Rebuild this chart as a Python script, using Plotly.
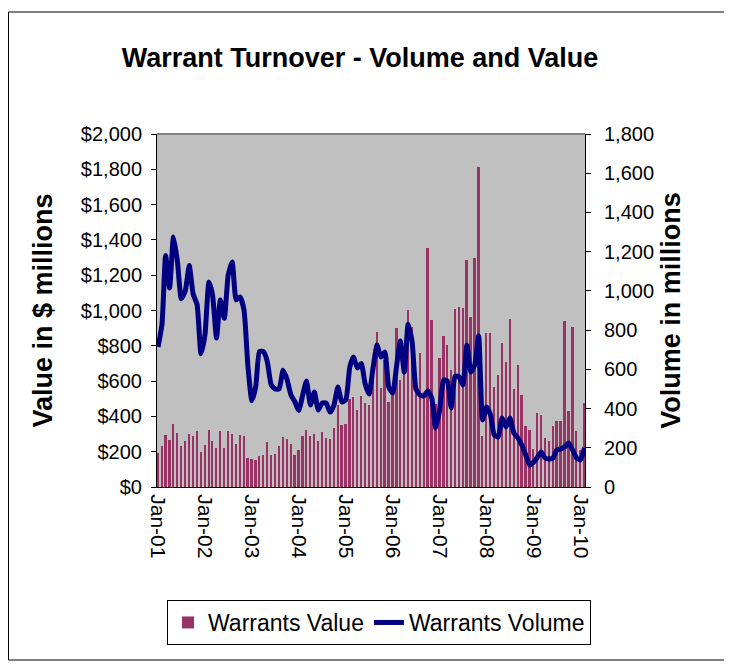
import pandas as pd
import plotly.graph_objects as go

months = pd.date_range("2001-01-01", periods=110, freq="MS")

# Warrants Value ($ millions), monthly Jan-01 .. Feb-10
warrants_value = [
    195, 235, 295, 265, 357, 305, 234, 262, 302, 290, 317, 200,
    240, 323, 262, 223, 317, 223, 317, 298, 242, 295, 291, 162,
    159, 153, 178, 181, 257, 181, 189, 234, 285, 272, 245, 181,
    210, 289, 323, 289, 300, 261, 312, 278, 272, 334, 465, 351,
    357, 500, 510, 436, 516, 476, 465, 720, 878, 561, 720, 482,
    550, 901, 606, 720, 1003, 906, 531, 761, 512, 1354, 946, 470,
    731, 856, 805, 663, 1008, 1020, 1014, 1286, 963, 1297, 1813, 290,
    874, 874, 568, 635, 818, 710, 952, 553, 691, 521, 346, 323,
    214, 421, 408, 276, 262, 346, 374, 374, 940, 431, 908, 317,
    210, 478,
]

# Warrants Volume (millions), monthly Jan-01 .. Feb-10
warrants_volume = [
    714, 830, 1180, 1015, 1275, 1150, 960, 1000, 1130, 985, 930, 680,
    775, 1045, 980, 760, 954, 860, 1081, 1147, 954, 969, 903, 620,
    440, 515, 690, 690, 640, 520, 500, 500, 595, 550, 470, 435,
    390, 470, 540, 418, 484, 393, 428, 428, 382, 418, 510, 433,
    444, 612, 663, 607, 630, 525, 474, 607, 724, 663, 688, 510,
    479, 622, 745, 586, 830, 740, 500, 469, 464, 490, 454, 300,
    393, 546, 541, 403, 566, 561, 520, 724, 586, 622, 770, 342,
    408, 367, 265, 255, 352, 306, 352, 275, 250, 214, 163, 112,
    127, 153, 178, 148, 143, 148, 189, 194, 205, 225, 189, 148,
    138, 199,
]

year_ticks = pd.date_range("2001-01-01", periods=10, freq="12MS")
year_labels = ["Jan-01", "Jan-02", "Jan-03", "Jan-04", "Jan-05",
               "Jan-06", "Jan-07", "Jan-08", "Jan-09", "Jan-10"]

FONT = "Arial, Liberation Sans, sans-serif"

# page body has an 8px margin, so figure is drawn 8px right/down
W, H = 724, 656


def px_x(p):
    # reference-pixel x -> paper coordinate (plot area 157..585)
    return (p - 157) / 428.0


def px_y(p):
    # reference-pixel y -> paper coordinate (plot area 134..487)
    return (487 - p) / 353.0


fig = go.Figure()
fig.add_trace(go.Bar(
    x=months, y=warrants_value, name="Warrants Value",
    marker=dict(color="#993366", line=dict(width=0)),
    width=14 * 86400000, yaxis="y",
))
fig.add_trace(go.Scatter(
    x=months, y=warrants_volume, name="Warrants Volume",
    mode="lines", line=dict(color="#000080", width=5, shape="spline", smoothing=0.5),
    yaxis="y2",
))

fig.update_layout(
    width=W, height=H,
    margin=dict(l=149, r=W - 577, t=126, b=H - 479, autoexpand=False),
    paper_bgcolor="white",
    plot_bgcolor="#C0C0C0",
    font=dict(family=FONT, color="black", size=20),
    title=dict(text="<b>Warrant Turnover - Volume and Value</b>",
               x=px_x(360), xref="paper", xanchor="center",
               y=1 - 50 / H, yref="container", yanchor="middle",
               font=dict(size=27, family=FONT, color="black")),
    bargap=0,
    showlegend=True,
    legend=dict(orientation="h", xref="container", yref="container",
                x=(379 - 8) / W, xanchor="center",
                y=1 - (600 - 8) / H, yanchor="top",
                bordercolor="black", borderwidth=1, bgcolor="white",
                font=dict(size=23, family=FONT, color="black")),
    xaxis=dict(type="date", range=["2000-12-24", "2010-02-05"],
               tickvals=year_ticks, ticktext=year_labels, tickangle=90,
               showgrid=False, zeroline=False, showline=True,
               linecolor="black", linewidth=1, ticks="",
               ticklabelstandoff=2,
               tickfont=dict(size=21, family=FONT, color="black")),
    yaxis=dict(range=[0, 2000], dtick=200, tickprefix="$", tickformat=",",
               showgrid=False, zeroline=False, showline=True,
               linecolor="black", linewidth=1, ticks="outside", ticklen=5,
               tickcolor="black", ticklabelstandoff=5,
               title=dict(text="<b>Value in $ millions</b>", standoff=20,
                          font=dict(size=27, family=FONT, color="black")),
               tickfont=dict(size=20, family=FONT, color="black")),
    yaxis2=dict(range=[0, 1800], dtick=200, tickformat=",", overlaying="y",
                side="right", showgrid=False, zeroline=False, showline=True,
                linecolor="black", linewidth=1, ticks="outside", ticklen=5,
                tickcolor="black", ticklabelstandoff=9,
                title=dict(text="<b>Volume in millions</b>", standoff=8,
                           font=dict(size=27, family=FONT, color="black")),
                tickfont=dict(size=20, family=FONT, color="black")),
    shapes=[
        dict(type="rect", xref="paper", yref="paper",
             x0=px_x(8.5), x1=px_x(727), y0=px_y(660), y1=px_y(12),
             line=dict(color="black", width=1), fillcolor="rgba(0,0,0,0)",
             layer="below"),
        dict(type="line", xref="paper", yref="paper", x0=0, x1=1, y0=1, y1=1,
             line=dict(color="#808080", width=2)),
    ],
)

fig.write_html("out.html")
